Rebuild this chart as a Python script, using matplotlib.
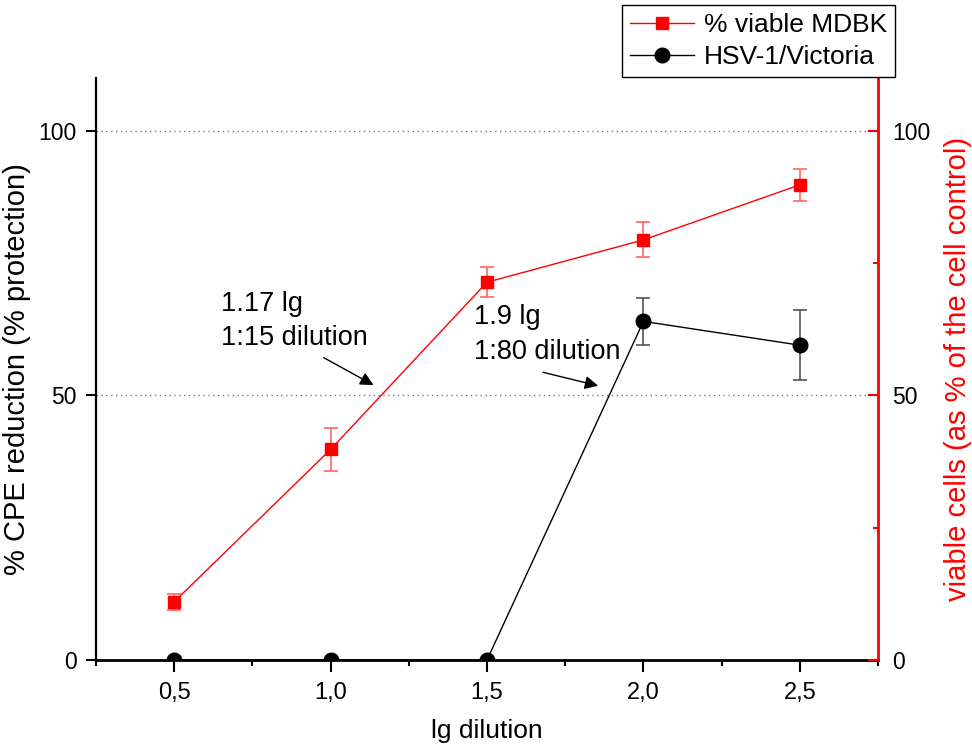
import matplotlib.pyplot as plt
from matplotlib.lines import Line2D
from matplotlib.ticker import MultipleLocator

plt.rcParams['font.family'] = ['Liberation Sans', 'DejaVu Sans']

# data
lg_dilution = [0.5, 1.0, 1.5, 2.0, 2.5]
viable_mdbk = [11.0, 39.8, 71.4, 79.4, 89.8]
viable_err = [1.5, 4.0, 2.8, 3.3, 3.0]
hsv_cpe = [0.0, 0.0, 0.0, 64.0, 59.5]
hsv_err = [0.0, 0.0, 0.0, 4.4, 6.6]
x_ticks = [0.5, 1.0, 1.5, 2.0, 2.5]
x_tick_labels = ['0,5', '1,0', '1,5', '2,0', '2,5']

fig = plt.figure(figsize=(9.72, 7.47), dpi=100)
ax = fig.add_axes([0.0988, 0.1165, 0.8045, 0.7791])
ax2 = ax.twinx()

# black series on left axis
ax.errorbar(lg_dilution, hsv_cpe, yerr=hsv_err, color='black', lw=1,
            marker='o', ms=10.5, ecolor='#555555', elinewidth=1.2,
            capsize=5, capthick=1.2, zorder=3)
ax.set_xlim(0.25, 2.75)
ax.set_ylim(0, 110)
ax.set_xticks(x_ticks)
ax.set_xticklabels(x_tick_labels)
ax.xaxis.set_minor_locator(MultipleLocator(0.25))
ax.set_yticks([0, 50, 100])
ax.tick_params(axis='x', which='major', direction='out', length=8.5, width=1.5,
               labelsize=17, pad=7)
ax.tick_params(axis='x', which='minor', direction='out', length=4.3, width=1.5)
ax.tick_params(axis='y', direction='out', length=7, width=1.5, labelsize=16.5, pad=7)
for y in [50, 100]:
    ax.axhline(y, color='#777777', lw=1, ls=(0, (1, 2.5)), zorder=0)

ax.spines['top'].set_visible(False)
ax.spines['left'].set_linewidth(1.6)
ax.spines['bottom'].set_linewidth(2)
ax.set_xlabel('lg dilution', fontsize=19, labelpad=11)
ax.set_ylabel('% CPE reduction (% protection)', fontsize=21, labelpad=5)

# red series on right axis
ax2.errorbar(lg_dilution, viable_mdbk, yerr=viable_err, color='red', lw=1,
             marker='s', ms=9, ecolor='#ff6666', elinewidth=1.2,
             capsize=5, capthick=1.2, zorder=3)
ax2.set_ylim(0, 110)
ax2.set_yticks([0, 50, 100])
ax2.yaxis.set_minor_locator(MultipleLocator(25))
ax2.tick_params(axis='y', which='major', direction='in', length=7, width=1.5,
                colors='red', labelcolor='black', labelsize=16.5, pad=10)
ax2.tick_params(axis='y', which='minor', direction='in', length=3.6, width=1.5,
                colors='red')
ax2.spines['right'].set_color('red')
ax2.spines['right'].set_linewidth(2)
ax2.spines['top'].set_visible(False)
ax2.spines['left'].set_visible(False)
ax2.spines['bottom'].set_visible(False)
ax2.set_ylabel('viable cells (as % of the cell control)', color='red',
               fontsize=21, labelpad=10)

# annotations
ax.annotate('', xy=(1.145, 51.7), xytext=(0.97, 57.4),
            arrowprops=dict(arrowstyle='-|>', color='black', lw=1, mutation_scale=20))
ax.text(0.651, 69.8, '1.17 lg\n1:15 dilution', fontsize=19.5, va='top', linespacing=1.42)
ax.annotate('', xy=(1.864, 51.7), xytext=(1.67, 54.5),
            arrowprops=dict(arrowstyle='-|>', color='black', lw=1, mutation_scale=20))
ax.text(1.457, 67.2, '1.9 lg\n1:80 dilution', fontsize=19.5, va='top', linespacing=1.42)

handles = [Line2D([], [], color='red', lw=1, marker='s', ms=9),
           Line2D([], [], color='black', lw=1, marker='o', ms=10.5)]
leg = fig.legend(handles, ['% viable MDBK', 'HSV-1/Victoria'], loc='upper right',
                 bbox_to_anchor=(0.921, 0.993), fontsize=19, frameon=True,
                 fancybox=False, edgecolor='black', framealpha=1,
                 handlelength=2.4, borderpad=0.3, labelspacing=0.3,
                 handletextpad=0.4, borderaxespad=0)
leg.get_frame().set_linewidth(1)

fig.savefig('out.png', dpi=100)
